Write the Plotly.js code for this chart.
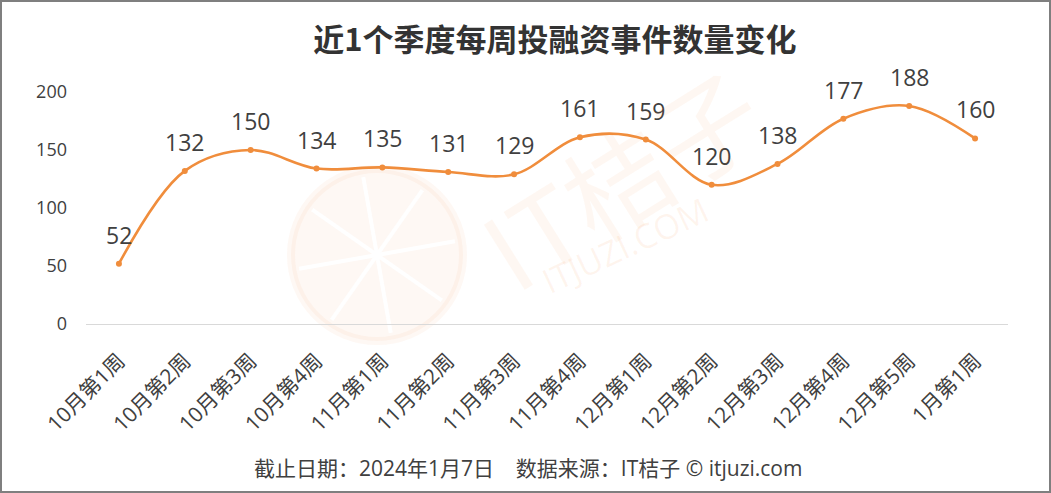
<!DOCTYPE html>
<html><head><meta charset="utf-8">
<script src="https://cdn.plot.ly/plotly-3.0.1.min.js"></script>
<style>
html,body{margin:0;padding:0;background:#fff;}
#wrap{position:relative;width:1051px;height:493px;}
#chart{width:1051px;height:493px;}
#frame{position:absolute;left:0;top:0;width:1051px;height:493px;box-sizing:border-box;border:2px solid #7f7f7f;pointer-events:none;}
</style></head>
<body>
<div id="wrap"><div id="chart"></div><div id="frame"></div></div>
<script>
const categories = ["10月第1周","10月第2周","10月第3周","10月第4周","11月第1周","11月第2周","11月第3周","11月第4周","12月第1周","12月第2周","12月第3周","12月第4周","12月第5周","1月第1周"];
const counts = [52,132,150,134,135,131,129,161,159,120,138,177,188,160];
const titleText = "近1个季度每周投融资事件数量变化";
const footerText = "截止日期：2024年1月7日\u00a0\u00a0\u00a0\u00a0数据来源：IT桔子 © itjuzi.com";

const FONT = '"Open Sans", "Noto Sans CJK SC", sans-serif';
const TFONT = '"Noto Sans CJK SC", sans-serif';
const ORANGE = '#F08D3C';
const TXT = '#404040';

const trace = {
  x: categories, y: counts, type: 'scatter', mode: 'lines+markers',
  line: {color: ORANGE, width: 2.6, shape: 'spline', smoothing: 1},
  marker: {color: ORANGE, size: 6},
  hoverinfo: 'x+y'
};

const labelAnns = categories.map((c, i) => ({
  x: c, y: counts[i], xref: 'x', yref: 'y', text: String(counts[i]),
  showarrow: false, yshift: 29, font: {family: FONT, size: 23, color: TXT}
}));

const annotations = labelAnns.concat([
  {xref: 'paper', yref: 'paper', x: 0.479, y: -0.62, xanchor: 'center', yanchor: 'middle',
   text: footerText, showarrow: false, font: {family: FONT, size: 21, color: TXT}},
  // watermark
  {xref: 'paper', yref: 'paper', x: 0.579, y: 0.64, xanchor: 'center', yanchor: 'middle',
   text: 'IT桔子', showarrow: false,
   textangle: -32, font: {family: TFONT, size: 105, color: 'rgba(245,140,70,0.07)'}},
  {xref: 'paper', yref: 'paper', x: 0.585, y: 0.34, xanchor: 'center', yanchor: 'middle',
   text: 'ITJUZI.COM', showarrow: false,
   textangle: -25, font: {family: FONT, size: 34, color: 'rgba(245,140,70,0.09)'}}
]);

// watermark circle (paper coords relative to plot area 86..1008 x, 92..324 y)
const pw = 922, ph = 232;
const cx = (377 - 86) / pw, cy = (324 - 255) / ph;
const rx = 86 / pw, ry = 86 / ph;
const shapes = [
  {type: 'circle', xref: 'paper', yref: 'paper', x0: cx - rx, x1: cx + rx, y0: cy - ry, y1: cy + ry,
   fillcolor: 'rgba(245,140,70,0.06)', line: {color: 'rgba(245,140,70,0.06)', width: 8}, layer: 'below'}
];
for (let k = 0; k < 8; k++) {
  const a = (k * 45 + 10) * Math.PI / 180;
  shapes.push({type: 'line', xref: 'paper', yref: 'paper', x0: cx, y0: cy,
    x1: cx + Math.cos(a) * rx * 0.92, y1: cy + Math.sin(a) * ry * 0.92,
    line: {color: '#ffffff', width: 4}, layer: 'below'});
}

const layout = {
  width: 1051, height: 493,
  margin: {l: 86, r: 43, t: 92, b: 169},
  paper_bgcolor: '#ffffff', plot_bgcolor: 'rgba(0,0,0,0)',
  showlegend: false,
  font: {family: FONT, color: TXT},
  title: {text: titleText, x: 0.528, xanchor: 'center', y: 0.918, yanchor: 'middle',
          font: {family: TFONT, size: 31, color: '#333333', weight: 700}},
  xaxis: {type: 'category', range: [-0.5, 13.5], tickangle: -45,
          showline: true, linecolor: '#d9d9d9', linewidth: 1.3, showgrid: false, zeroline: false,
          ticks: '', ticklabelstandoff: 15, tickfont: {family: FONT, size: 21, color: TXT}, fixedrange: true},
  yaxis: {range: [0, 200], dtick: 50, showline: false, showgrid: false, zeroline: false,
          ticks: '', ticklabelstandoff: 18, tickfont: {family: FONT, size: 18, color: TXT}, fixedrange: true},
  annotations: annotations,
  shapes: shapes
};

Plotly.newPlot('chart', [trace], layout, {displayModeBar: false, staticPlot: true});
</script>
</body></html>
